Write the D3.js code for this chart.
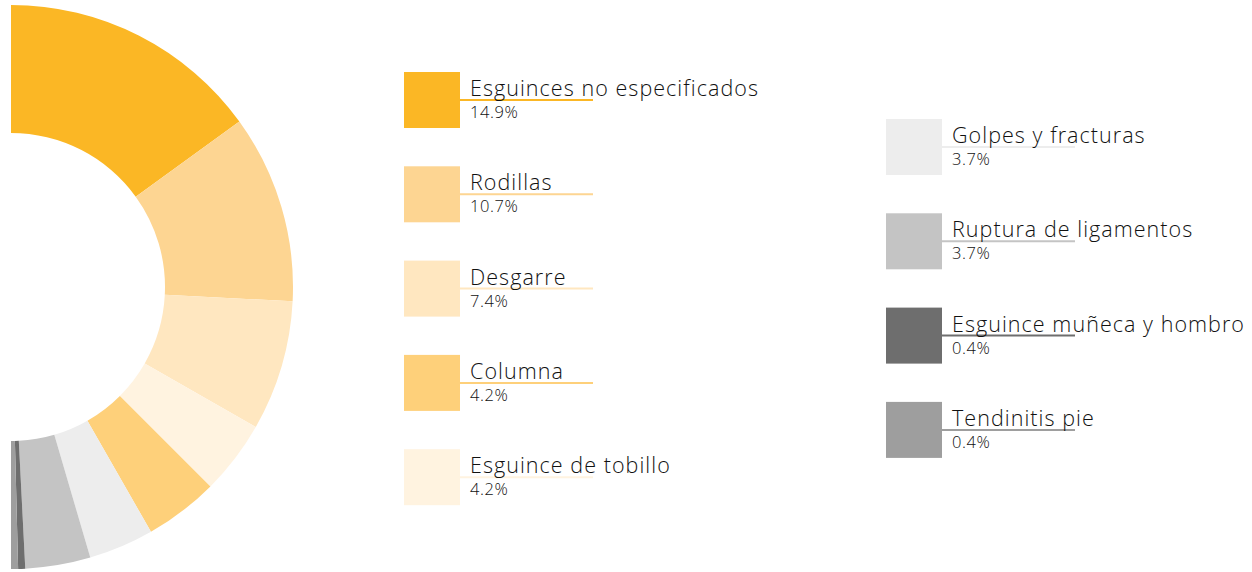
<!DOCTYPE html>
<html>
<head>
<meta charset="utf-8">
<script src="https://cdn.jsdelivr.net/npm/d3@7"></script>
<style>
  body { margin: 0; background: #fff; }
  text { font-family: "Open Sans", Lato, sans-serif; font-weight: 300; fill: #111; }
</style>
</head>
<body>
<div id="chart"></div>
<script>
// slice order around the donut (clockwise from 12 o'clock)
var categories = ["Esguinces no especificados", "Rodillas", "Desgarre", "Esguince de tobillo",
  "Columna", "Golpes y fracturas", "Ruptura de ligamentos", "Esguince muñeca y hombro", "Tendinitis pie"];
var values = [14.9, 10.7, 7.4, 4.2, 4.2, 3.7, 3.7, 0.4, 0.4];
var colors = ["#fbb725", "#fdd592", "#ffe7c0", "#fff3e0", "#fed07a", "#ededed", "#c4c4c4", "#6e6e6e", "#9e9e9e"];

// legend order (two columns)
var legendCol1 = ["Esguinces no especificados", "Rodillas", "Desgarre", "Columna", "Esguince de tobillo"];
var legendCol2 = ["Golpes y fracturas", "Ruptura de ligamentos", "Esguince muñeca y hombro", "Tendinitis pie"];

var width = 1252, height = 572;
var cx = 11, cy = 287, outerR = 282, innerR = 154;

var svg = d3.select("#chart").append("svg")
    .attr("width", width)
    .attr("height", height);

var data = categories.map(function(c, i) { return {name: c, value: values[i], color: colors[i]}; });
var byName = {};
data.forEach(function(d) { byName[d.name] = d; });

var pie = d3.pie()
    .sort(null)
    .value(function(d) { return d.value; })
    .startAngle(0)
    .endAngle(Math.PI);

var arc = d3.arc()
    .innerRadius(innerR)
    .outerRadius(outerR);

svg.append("g")
    .attr("transform", "translate(" + cx + "," + cy + ")")
    .selectAll("path")
    .data(pie(data))
    .enter().append("path")
    .attr("d", arc)
    .attr("fill", function(d) { return d.data.color; });

// legend
var rowStep = 94.3;
function drawLegend(names, x0, y0) {
  var g = svg.append("g").attr("transform", "translate(" + x0 + "," + y0 + ")");
  var item = g.selectAll("g")
      .data(names.map(function(n) { return byName[n]; }))
      .enter().append("g")
      .attr("transform", function(d, i) { return "translate(0," + (i * rowStep) + ")"; });

  item.append("rect")
      .attr("width", 56)
      .attr("height", 56)
      .attr("fill", function(d) { return d.color; });

  item.append("line")
      .attr("x1", 56).attr("x2", 189)
      .attr("y1", 28).attr("y2", 28)
      .attr("stroke", function(d) { return d.color; })
      .attr("stroke-width", 2);

  item.append("text")
      .attr("x", 66)
      .attr("y", 24)
      .style("font-size", "21.5px")
      .style("letter-spacing", "1.05px")
      .text(function(d) { return d.name; });

  item.append("text")
      .attr("x", 66)
      .attr("y", 46)
      .style("font-size", "16.5px")
      .style("letter-spacing", "0.6px")
      .text(function(d) { return d.value.toFixed(1) + "%"; });
}

drawLegend(legendCol1, 404, 72);
drawLegend(legendCol2, 886, 119);
</script>
</body>
</html>
